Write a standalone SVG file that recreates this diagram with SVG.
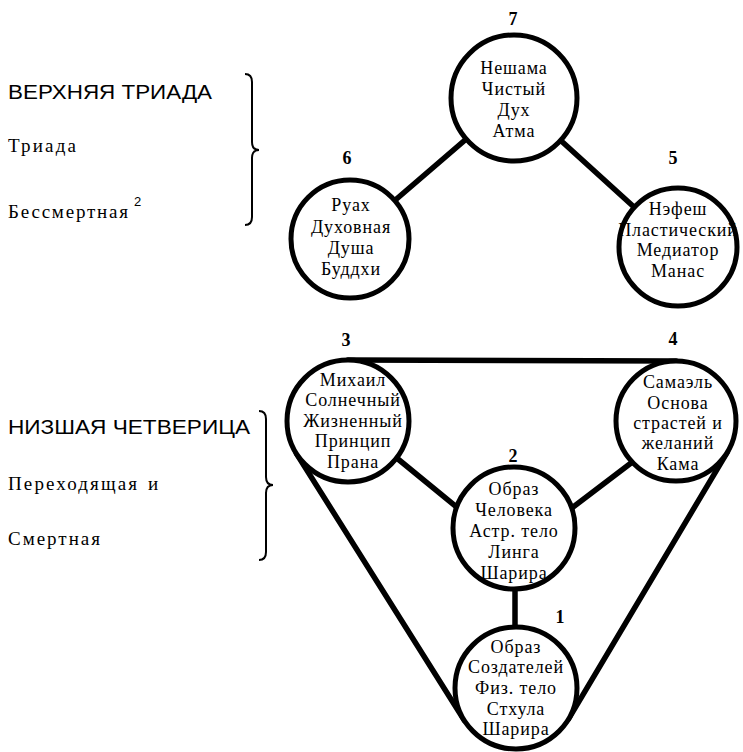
<svg xmlns="http://www.w3.org/2000/svg" width="743" height="752" viewBox="0 0 743 752">
<style>
.bg{fill:#fff}
.c{fill:#fff;stroke:#000;stroke-width:5}
.ln{stroke:#000;stroke-width:5.5;fill:none;stroke-linecap:round}
.br{stroke:#000;stroke-width:2;fill:none}
.t{font-family:"Liberation Serif","Times New Roman",serif;font-size:18px;letter-spacing:0.9px;text-anchor:middle;fill:#000}
.n{font-family:"Liberation Serif","Times New Roman",serif;font-size:18px;font-weight:bold;text-anchor:middle;fill:#000}
.h{font-family:"Liberation Sans",Arial,sans-serif;font-size:20px;fill:#000}
.s{font-family:"Liberation Serif","Times New Roman",serif;font-size:19px;fill:#000}
.sup{font-family:"Liberation Sans",Arial,sans-serif;font-size:13px;fill:#000}
</style>
<rect class="bg" x="0" y="0" width="743" height="752"/>

<g id="labels">
<text class="h" x="8" y="99" textLength="204" lengthAdjust="spacingAndGlyphs">ВЕРХНЯЯ ТРИАДА</text>
<text class="s" x="8" y="152" textLength="68" lengthAdjust="spacing">Триада</text>
<text class="s" x="8" y="218" textLength="120" lengthAdjust="spacing">Бессмертная</text>
<text class="sup" x="134" y="206">2</text>
<path class="br" d="M245 74 Q252 74 252 82 L252 142 Q252 150 259 150 Q252 150 252 158 L252 217 Q252 225 245 225"/>
<text class="h" x="8" y="434" textLength="242" lengthAdjust="spacingAndGlyphs">НИЗШАЯ ЧЕТВЕРИЦА</text>
<text class="s" x="8" y="490" textLength="129" lengthAdjust="spacing">Переходящая</text>
<text class="s" x="148" y="490">и</text>
<text class="s" x="8" y="545" textLength="92" lengthAdjust="spacing">Смертная</text>
<path class="br" d="M259 411 Q266 411 266 419 L266 477 Q266 485 273 485 Q266 485 266 493 L266 552 Q266 560 259 560"/>
</g>

<g id="connectors">
<line class="ln" x1="514" y1="98" x2="350" y2="239"/>
<line class="ln" x1="514" y1="98" x2="678" y2="247"/>
<line class="ln" x1="348" y1="360" x2="676" y2="361"/>
<line class="ln" x1="296.4" y1="453.5" x2="464.4" y2="720.5"/>
<line class="ln" x1="727.5" y1="451.8" x2="568.3" y2="719.4"/>
<line class="ln" x1="390" y1="452.5" x2="470" y2="518"/>
<line class="ln" x1="635" y1="460" x2="560" y2="517"/>
<line class="ln" x1="515" y1="585" x2="515" y2="630"/>
</g>

<g id="node7">
<text class="n" x="513" y="25">7</text>
<circle class="c" cx="514" cy="98" r="63"/>
<text class="t" x="514" y="74">Нешама</text>
<text class="t" x="514" y="95">Чистый</text>
<text class="t" x="514" y="116">Дух</text>
<text class="t" x="514" y="137">Атма</text>
</g>

<g id="node6">
<text class="n" x="347" y="164">6</text>
<circle class="c" cx="350" cy="239" r="59"/>
<text class="t" x="351" y="211">Руах</text>
<text class="t" x="351" y="233">Духовная</text>
<text class="t" x="351" y="254">Душа</text>
<text class="t" x="351" y="275">Буддхи</text>
</g>

<g id="node5">
<text class="n" x="673" y="164">5</text>
<circle class="c" cx="678" cy="247" r="59"/>
<text class="t" x="678" y="215">Нэфеш</text>
<text class="t" x="678" y="236">Пластический</text>
<text class="t" x="678" y="256">Медиатор</text>
<text class="t" x="678" y="277">Манас</text>
</g>

<g id="node3">
<text class="n" x="346" y="346">3</text>
<circle class="c" cx="348" cy="421" r="61"/>
<text class="t" x="353" y="386">Михаил</text>
<text class="t" x="353" y="406">Солнечный</text>
<text class="t" x="353" y="427">Жизненный</text>
<text class="t" x="353" y="447">Принцип</text>
<text class="t" x="353" y="468">Прана</text>
</g>

<g id="node4">
<text class="n" x="673" y="345">4</text>
<circle class="c" cx="676" cy="421" r="60"/>
<text class="t" x="678" y="388">Самаэль</text>
<text class="t" x="678" y="409">Основа</text>
<text class="t" x="678" y="429">страстей и</text>
<text class="t" x="678" y="449">желаний</text>
<text class="t" x="678" y="470">Кама</text>
</g>

<g id="node2">
<text class="n" x="513" y="462">2</text>
<circle class="c" cx="514" cy="528" r="61"/>
<text class="t" x="514" y="495">Образ</text>
<text class="t" x="514" y="516">Человека</text>
<text class="t" x="514" y="537">Астр. тело</text>
<text class="t" x="514" y="558">Линга</text>
<text class="t" x="514" y="579">Шарира</text>
</g>

<g id="node1">
<text class="n" x="560" y="623">1</text>
<circle class="c" cx="516" cy="688" r="61"/>
<text class="t" x="516" y="653">Образ</text>
<text class="t" x="516" y="673">Создателей</text>
<text class="t" x="516" y="694">Физ. тело</text>
<text class="t" x="516" y="715">Стхула</text>
<text class="t" x="516" y="735">Шарира</text>
</g>
</svg>
